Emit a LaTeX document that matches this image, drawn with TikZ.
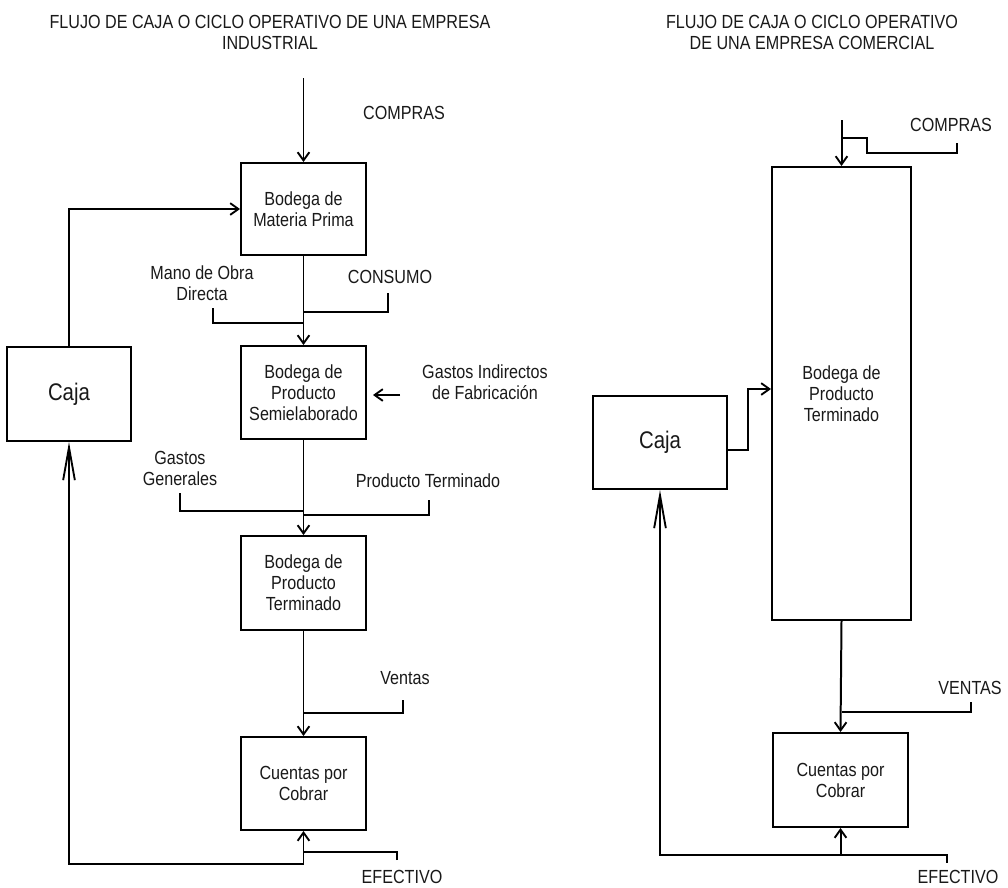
\documentclass[tikz,border=0pt]{standalone}
\usepackage{fontspec}
\setmainfont{Liberation Sans}[FakeStretch=0.85]
\usetikzlibrary{arrows.meta}
\begin{document}
\begin{tikzpicture}[x=0.03cm,y=-0.03cm,
  line width=1.7pt,
  every node/.style={text=black!90, font=\fontsize{16.2}{17.9}\selectfont},
  box/.style={draw=black, line width=1.7pt, rectangle, align=center, inner sep=0pt},
  lbl/.style={align=center, inner sep=0pt},
  arr/.style={-{Straight Barb[length=7pt,width=10pt,line width=1.6pt]}},
  longarr/.style={-{Straight Barb[length=28pt,width=10pt,line width=1.6pt]}}
]
\useasboundingbox (0,0) rectangle (1008,887);

% ---------------- Left diagram ----------------
\node[lbl] (t1) at (270,32) {FLUJO DE CAJA O CICLO OPERATIVO DE UNA EMPRESA\\INDUSTRIAL};

\node[box, minimum width=3.75cm, minimum height=2.76cm] (mp) at (303.5,209) {Bodega de\\Materia Prima};
\node[box, minimum width=3.75cm, minimum height=2.79cm] (sp) at (303.5,392.5) {Bodega de\\Producto\\Semielaborado};
\node[box, minimum width=3.75cm, minimum height=2.82cm] (pt) at (303.5,583) {Bodega de\\Producto\\Terminado};
\node[box, minimum width=3.75cm, minimum height=2.79cm] (cc) at (303.5,783.5) {Cuentas por\\Cobrar};
\node[box, minimum width=3.72cm, minimum height=2.82cm, font=\fontsize{20.5}{22}\selectfont] (caja) at (69,394) {Caja};

\node[lbl] (compras) at (404,113) {COMPRAS};
\node[lbl] (mano) at (202,283) {Mano de Obra\\Directa};
\node[lbl] (consumo) at (390,277) {CONSUMO};
\node[lbl] (gif) at (485,382) {Gastos Indirectos\\de Fabricación};
\node[lbl] (gg) at (180,468) {Gastos\\Generales};
\node[lbl] (ptl) at (428,481) {Producto Terminado};
\node[lbl] (ventas) at (405,678) {Ventas};
\node[lbl] (efectivo) at (402,877) {EFECTIVO};

\coordinate (cin) at (303.5,78);
\coordinate (mo) at (213,308);
\coordinate (jmo) at (303.5,323);
\coordinate (co) at (388,293);
\coordinate (jco) at (303.5,312);
\coordinate (gia) at (400,395);
\coordinate (gib) at (373,395);
\coordinate (ggs) at (180,493);
\coordinate (jgg) at (303.5,511);
\coordinate (pts) at (429,500);
\coordinate (jpt) at (303.5,515);
\coordinate (ve) at (403,700);
\coordinate (jve) at (303.5,713);
\coordinate (ef) at (397,860);
\coordinate (jef) at (303.5,852);
\coordinate (jb) at (303.5,864);

\draw[arr] (cin) -- (mp.north);
\draw[arr] (caja.north) |- (mp.west);
\draw[arr] (mp.south) -- (sp.north);
\draw (mo) |- (jmo);
\draw (co) |- (jco);
\draw[arr] (gia) -- (gib);
\draw[arr] (sp.south) -- (pt.north);
\draw (ggs) |- (jgg);
\draw (pts) |- (jpt);
\draw[arr] (pt.south) -- (cc.north);
\draw (ve) |- (jve);
\draw[arr] (jb) -- (cc.south);
\draw (ef) |- (jef);
\draw[longarr] (jb) -| (caja.south);

% ---------------- Right diagram ----------------
\node[lbl] (t2) at (812,32) {FLUJO DE CAJA O CICLO OPERATIVO\\DE UNA EMPRESA COMERCIAL};

\node[box, minimum width=4.17cm, minimum height=13.59cm] (big) at (841.5,393.5) {Bodega de\\Producto\\Terminado};
\node[box, minimum width=4.02cm, minimum height=2.79cm, font=\fontsize{20.5}{22}\selectfont] (cajaR) at (660,442.5) {Caja};
\node[box, minimum width=4.05cm, minimum height=2.82cm] (ccR) at (840.5,780) {Cuentas por\\Cobrar};

\node[lbl] (comprasR) at (951,125) {COMPRAS};
\node[lbl] (ventasR) at (970,688) {VENTAS};
\node[lbl] (efectivoR) at (958,877) {EFECTIVO};

\coordinate (cinR) at (841.5,120);
\coordinate (cr1) at (957,143);
\coordinate (cr2) at (867,153);
\coordinate (cr3) at (841.5,138);
\coordinate (ce) at (727,450);
\coordinate (k1) at (748,389);
\coordinate (vr) at (971,702);
\coordinate (jvr) at (841.5,712);
\coordinate (jbR) at (840.5,855);
\coordinate (efR) at (947,863);

\draw[arr] (cinR) -- (big.north);
\draw (cr1) |- (cr2) |- (cr3);
\draw[arr] (ce) -| (k1) -- (k1 -| big.west);
\draw[arr] (big.south) -- (ccR.north);
\draw (vr) |- (jvr);
\draw[arr] (jbR) -- (ccR.south);
\draw (jbR) -| (efR);
\draw[longarr] (jbR) -| (cajaR.south);
\end{tikzpicture}
\end{document}
